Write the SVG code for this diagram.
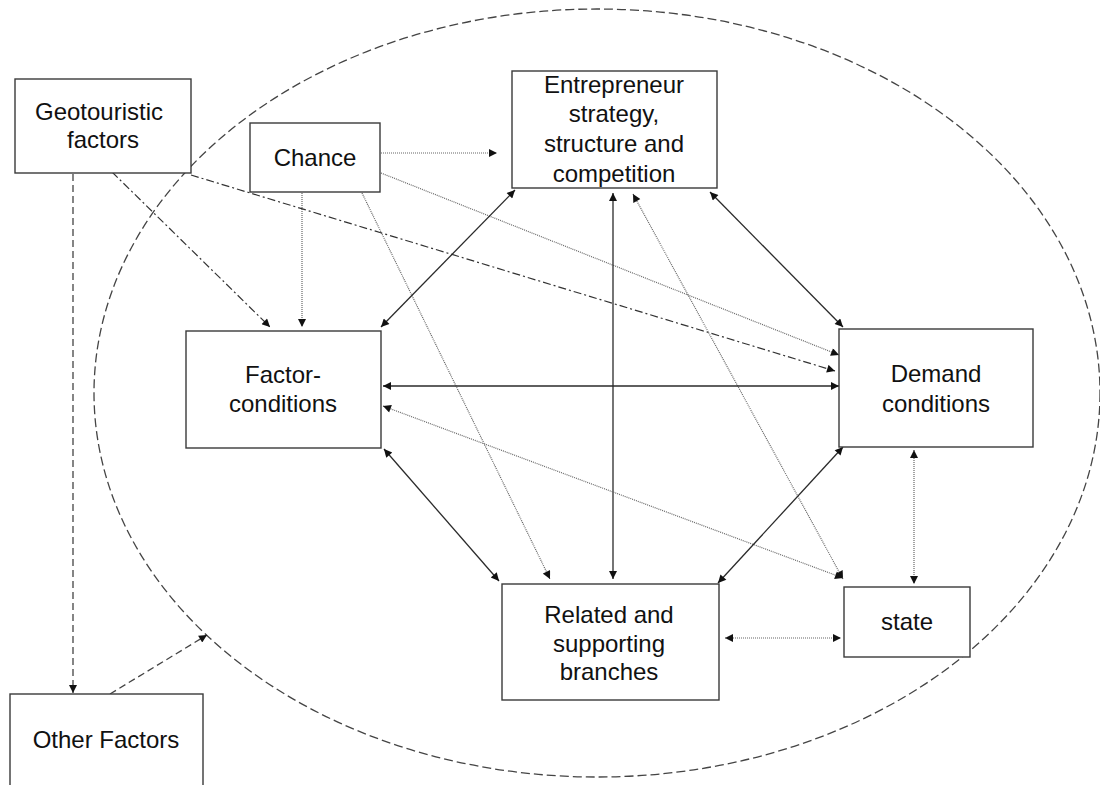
<svg xmlns="http://www.w3.org/2000/svg" width="1100" height="785" viewBox="0 0 1100 785">
<style>
.box{fill:#fff;stroke:#3a3a3a;stroke-width:1.4}
.t{font-family:"Liberation Sans",Arial,sans-serif;font-size:24px;fill:#111;text-anchor:middle}
.solid{stroke:#2a2a2a;stroke-width:1.3;fill:none}
.dot{stroke:#666;stroke-width:1.2;stroke-dasharray:1,1;fill:none}
.dd{stroke:#333;stroke-width:1.2;stroke-dasharray:8,3,2,3;fill:none}
.dash{stroke:#444;stroke-width:1.3;stroke-dasharray:7,4;fill:none}
</style>
<defs>
<marker id="a" viewBox="0 0 10 10" refX="10" refY="5" markerWidth="10" markerHeight="8" markerUnits="userSpaceOnUse" orient="auto-start-reverse">
<path d="M0,0 L10,5 L0,10 z" fill="#111"/>
</marker>
</defs>
<ellipse cx="597" cy="393" rx="503" ry="384" fill="none" stroke="#444" stroke-width="1.3" stroke-dasharray="9,4"/>
<g id="connectors">
<line class="dot" x1="381" y1="153" x2="497" y2="153" marker-end="url(#a)"/>
<line class="dot" x1="302" y1="193" x2="302" y2="327" marker-end="url(#a)"/>
<line class="dot" x1="381" y1="173" x2="839" y2="355" marker-end="url(#a)"/>
<line class="dot" x1="362" y1="193" x2="550" y2="579" marker-end="url(#a)"/>
<line class="dd" x1="112" y1="172" x2="270" y2="327" marker-end="url(#a)"/>
<line class="dd" x1="191" y1="175" x2="835" y2="371" marker-end="url(#a)"/>
<line class="dash" x1="73" y1="174" x2="73" y2="693" marker-end="url(#a)"/>
<line class="dash" x1="110" y1="694" x2="207" y2="635" marker-end="url(#a)"/>
<line class="solid" x1="381" y1="327" x2="515" y2="190" marker-start="url(#a)" marker-end="url(#a)"/>
<line class="solid" x1="613" y1="193" x2="613" y2="579" marker-start="url(#a)" marker-end="url(#a)"/>
<line class="dot" x1="633" y1="194" x2="843" y2="579" marker-start="url(#a)" marker-end="url(#a)"/>
<line class="solid" x1="710" y1="192" x2="843" y2="327" marker-start="url(#a)" marker-end="url(#a)"/>
<line class="solid" x1="383" y1="386" x2="839" y2="386" marker-start="url(#a)" marker-end="url(#a)"/>
<line class="dot" x1="383" y1="406" x2="843" y2="578" marker-start="url(#a)" marker-end="url(#a)"/>
<line class="solid" x1="384" y1="449" x2="499" y2="581" marker-start="url(#a)" marker-end="url(#a)"/>
<line class="solid" x1="843" y1="447" x2="718" y2="583" marker-start="url(#a)" marker-end="url(#a)"/>
<line class="dot" x1="914" y1="450" x2="914" y2="584" marker-start="url(#a)" marker-end="url(#a)"/>
<line class="dot" x1="725" y1="638" x2="841" y2="638" marker-start="url(#a)" marker-end="url(#a)"/>
</g>
<g id="geotouristic">
<rect class="box" x="15" y="79" width="176" height="94"/>
<text class="t" x="99" y="120">Geotouristic</text>
<text class="t" x="103" y="148">factors</text>
</g>
<g id="chance">
<rect class="box" x="250" y="123" width="130" height="69"/>
<text class="t" x="315" y="166">Chance</text>
</g>
<g id="entrepreneur">
<rect class="box" x="512" y="71" width="205" height="117"/>
<text class="t" x="614" y="93">Entrepreneur</text>
<text class="t" x="614" y="122">strategy,</text>
<text class="t" x="614" y="152">structure and</text>
<text class="t" x="614" y="182">competition</text>
</g>
<g id="factor">
<rect class="box" x="186" y="331" width="195" height="117"/>
<text class="t" x="283" y="383">Factor-</text>
<text class="t" x="283" y="412">conditions</text>
</g>
<g id="demand">
<rect class="box" x="839" y="329" width="194" height="118"/>
<text class="t" x="936" y="382">Demand</text>
<text class="t" x="936" y="412">conditions</text>
</g>
<g id="related">
<rect class="box" x="502" y="584" width="217" height="116"/>
<text class="t" x="609" y="623">Related and</text>
<text class="t" x="609" y="652">supporting</text>
<text class="t" x="609" y="680">branches</text>
</g>
<g id="state">
<rect class="box" x="844" y="587" width="126" height="70"/>
<text class="t" x="907" y="630">state</text>
</g>
<g id="other">
<rect class="box" x="10" y="694" width="193" height="120"/>
<text class="t" x="106" y="748">Other Factors</text>
</g>
</svg>
